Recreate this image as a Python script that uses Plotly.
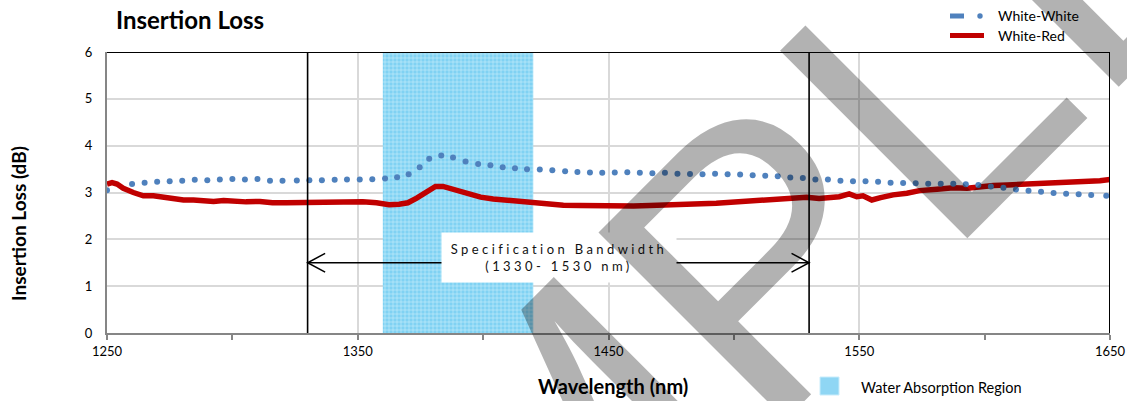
import plotly.graph_objects as go

# ---------------- data ----------------
ww_x = [1250, 1260, 1265, 1270, 1275, 1280, 1285, 1290, 1295, 1300, 1305, 1310, 1315, 1320,
        1325.7, 1330.7, 1335.7, 1340.8, 1345.7, 1350.8, 1355.8, 1360.9, 1365.7, 1370.3, 1374.7,
        1378.5, 1383.3, 1388, 1393, 1398, 1402.9, 1407.8, 1412.7, 1417.5, 1422.6, 1427.6,
        1432.7, 1437.6, 1442.6, 1447.5, 1452.5, 1457.5, 1462.5, 1467.5, 1472.5, 1477.5, 1482.5,
        1487.5, 1492.5, 1497.5, 1502.5, 1507.5, 1512.5, 1517.5, 1522.5, 1527.5, 1532.5, 1537.5,
        1542.5, 1547.5, 1552.5, 1557.5, 1562.5, 1567.5, 1572.5, 1577.5, 1582.5, 1587.5, 1592.5,
        1597.5, 1602.5, 1607.5, 1612.5, 1617.5, 1622.5, 1627.5, 1632.5, 1637.5, 1642.5, 1648.5]
ww_y = [3.05, 3.18, 3.21, 3.23, 3.24, 3.25, 3.27, 3.26, 3.28, 3.29, 3.28, 3.29, 3.25, 3.25,
        3.254, 3.263, 3.263, 3.27, 3.276, 3.276, 3.284, 3.297, 3.327, 3.391, 3.54,
        3.718, 3.788, 3.746, 3.66, 3.611, 3.583, 3.54, 3.519, 3.498, 3.49, 3.476,
        3.455, 3.44, 3.425, 3.42, 3.425, 3.43, 3.42, 3.41, 3.42, 3.40, 3.395,
        3.39, 3.40, 3.39, 3.385, 3.37, 3.36, 3.345, 3.32, 3.31, 3.28, 3.275,
        3.25, 3.24, 3.24, 3.23, 3.21, 3.205, 3.195, 3.185, 3.188, 3.185, 3.175,
        3.16, 3.13, 3.10, 3.065, 3.04, 3.015, 2.99, 2.975, 2.96, 2.945, 2.93]

wr_x = [1250, 1252, 1254, 1256.5, 1260.5, 1264.5, 1268.5, 1272.5, 1276.5, 1280.5, 1284.5,
        1288.5, 1292.5, 1296.5, 1300.5, 1305.5, 1311, 1316, 1321.5, 1327, 1332, 1337.5, 1343,
        1347, 1352, 1357.5, 1362.5, 1366.5, 1370, 1373.5, 1377.5, 1381, 1384, 1388, 1393.5,
        1399, 1404, 1409.5, 1414.5, 1420, 1425, 1432, 1438.5, 1446, 1453, 1460, 1466.5, 1473,
        1480, 1487, 1493, 1500, 1506.5, 1513, 1519.5, 1525, 1529, 1534, 1538, 1542, 1546, 1549,
        1551.5, 1555, 1558.5, 1563.5, 1569, 1574, 1581, 1587.5, 1593, 1598, 1603.5, 1609, 1614,
        1621, 1627.5, 1634, 1640.5, 1646, 1650]
wr_y = [3.18, 3.21, 3.18, 3.09, 3.00, 2.93, 2.93, 2.90, 2.88, 2.84, 2.84,
        2.83, 2.81, 2.83, 2.81, 2.80, 2.81, 2.78, 2.78, 2.785, 2.80, 2.80, 2.80,
        2.82, 2.80, 2.78, 2.74, 2.75, 2.78, 2.88, 3.02, 3.13, 3.13, 3.07, 2.96,
        2.90, 2.86, 2.83, 2.80, 2.77, 2.75, 2.73, 2.72, 2.71, 2.70, 2.71, 2.72, 2.74,
        2.76, 2.76, 2.77, 2.79, 2.82, 2.84, 2.86, 2.88, 2.90, 2.87, 2.89, 2.91, 2.97, 2.91,
        2.93, 2.84, 2.89, 2.95, 2.985, 3.04, 3.07, 3.10, 3.09, 3.13, 3.15, 3.16, 3.17,
        3.20, 3.21, 3.23, 3.23, 3.25, 3.28]

x_tickvals = [1250, 1350, 1450, 1550, 1650]
x_minorvals = [1300, 1400, 1500, 1600]
y_tickvals = [0, 1, 2, 3, 4, 5, 6]

X_MIN, X_MAX = 1250, 1650
Y_MIN, Y_MAX = 0, 6
WATER_START, WATER_END = 1360, 1420
SPEC_START, SPEC_END = 1330, 1530
ARROW_Y = 1.5

# ---------------- layout geometry ----------------
W, H = 1127, 401
ML, MR, MT, MB = 107, 17, 52, 68
PW, PH = W - ML - MR, H - MT - MB


def PX(px):
    return (px - ML) / PW


def PY(py):
    return (H - MB - py) / PH


FONT = "Lato"
BLUE = "#4f81bd"
RED = "#c00000"
WATER = "#80d2f3"

fig = go.Figure()

# water absorption region (patterned fill)
fig.add_trace(go.Scatter(
    x=[WATER_START, WATER_END, WATER_END, WATER_START, WATER_START],
    y=[Y_MIN, Y_MIN, Y_MAX, Y_MAX, Y_MIN],
    mode="lines", fill="toself", fillcolor=WATER,
    fillpattern=dict(shape="+", fgcolor="#cdeefc", bgcolor=WATER, size=4, solidity=0.25),
    line=dict(width=0, color=WATER), hoverinfo="skip", showlegend=False))

fig.add_trace(go.Scatter(
    x=wr_x, y=wr_y, mode="lines", name="White-Red",
    line=dict(color=RED, width=5.5), showlegend=False))

fig.add_trace(go.Scatter(
    x=ww_x, y=ww_y, mode="markers", name="White-White",
    marker=dict(color=BLUE, size=6), showlegend=False))

shapes = []
for xv in (SPEC_START, SPEC_END):
    shapes.append(dict(type="line", xref="x", yref="y", x0=xv, x1=xv, y0=Y_MIN, y1=Y_MAX,
                       line=dict(color="black", width=1.6), layer="above"))
shapes.append(dict(type="line", xref="x", yref="y", x0=X_MIN, x1=X_MAX, y0=Y_MAX, y1=Y_MAX,
                   line=dict(color="black", width=2), layer="above"))
shapes.append(dict(type="line", xref="x", yref="y", x0=X_MAX, x1=X_MAX, y0=Y_MIN, y1=Y_MAX,
                   line=dict(color="black", width=2), layer="above"))
shapes.append(dict(type="line", xref="x", yref="y", x0=SPEC_START, x1=SPEC_END, y0=ARROW_Y, y1=ARROW_Y,
                   line=dict(color="black", width=1.5), layer="above"))
hx, hy = 7.0, 0.2
shapes.append(dict(type="path", xref="x", yref="y",
                   path=f"M {SPEC_START + hx},{ARROW_Y + hy} L {SPEC_START},{ARROW_Y} L {SPEC_START + hx},{ARROW_Y - hy}",
                   line=dict(color="black", width=1.5), layer="above"))
shapes.append(dict(type="path", xref="x", yref="y",
                   path=f"M {SPEC_END - hx},{ARROW_Y + hy} L {SPEC_END},{ARROW_Y} L {SPEC_END - hx},{ARROW_Y - hy}",
                   line=dict(color="black", width=1.5), layer="above"))
# legend samples
shapes.append(dict(type="line", xref="paper", yref="paper", x0=PX(950), x1=PX(964), y0=PY(16), y1=PY(16),
                   line=dict(color=BLUE, width=5)))
shapes.append(dict(type="circle", xref="paper", yref="paper", x0=PX(977.3), x1=PX(982.7),
                   y0=PY(18.7), y1=PY(13.3), fillcolor=BLUE, line=dict(width=0)))
shapes.append(dict(type="line", xref="paper", yref="paper", x0=PX(950), x1=PX(984), y0=PY(35.5), y1=PY(35.5),
                   line=dict(color=RED, width=5)))
shapes.append(dict(type="rect", xref="paper", yref="paper", x0=PX(820), x1=PX(839), y0=PY(395), y1=PY(377),
                   fillcolor="#8fd6f4", line=dict(color="#c8ecfb", width=1)))

annotations = [
    dict(text="<b>Insertion Loss</b>", xref="paper", yref="paper", x=PX(114), y=PY(20),
         xanchor="left", yanchor="middle", showarrow=False, font=dict(family=FONT, size=24, color="black")),
    dict(text="<b>Insertion Loss (dB)</b>", xref="paper", yref="paper", x=PX(18), y=PY(224),
         xanchor="center", yanchor="middle", textangle=-90, showarrow=False,
         font=dict(family=FONT, size=19, color="black")),
    dict(text="<b>Wavelength (nm)</b>", xref="paper", yref="paper", x=PX(613), y=PY(386),
         xanchor="center", yanchor="middle", showarrow=False, font=dict(family=FONT, size=20, color="black")),
    dict(text="White-White", xref="paper", yref="paper", x=PX(996), y=PY(16),
         xanchor="left", yanchor="middle", showarrow=False, font=dict(family=FONT, size=14, color="black")),
    dict(text="White-Red", xref="paper", yref="paper", x=PX(996), y=PY(36),
         xanchor="left", yanchor="middle", showarrow=False, font=dict(family=FONT, size=14, color="black")),
    dict(text="Water Absorption Region", xref="paper", yref="paper", x=PX(859), y=PY(387),
         xanchor="left", yanchor="middle", showarrow=False, font=dict(family=FONT, size=14.5, color="black")),
    dict(text='<span style="letter-spacing:3.4px">Specification Bandwidth</span><br>'
              '<span style="letter-spacing:3.4px">(1330- 1530 nm)</span>',
         xref="x", yref="y", x=1430.3, y=1.61, xanchor="center", yanchor="middle",
         width=232, height=47, bgcolor="white", borderpad=1, showarrow=False, align="center",
         font=dict(family=FONT, size=13, color="#111")),
    # watermark
    dict(text="SAMPLE", xref="paper", yref="paper", x=PX(631), y=PY(385), xanchor="center",
         yanchor="middle", textangle=-45, showarrow=False,
         font=dict(family="Liberation Sans", size=385, color="rgba(0,0,0,0.30)")),
]

fig.update_layout(
    template="none",
    width=W, height=H, autosize=False, margin=dict(l=ML, r=MR, t=MT, b=MB, pad=0, autoexpand=False),
    paper_bgcolor="white", plot_bgcolor="white",
    shapes=shapes, annotations=annotations, showlegend=False,
    font=dict(family=FONT, size=13, color="black"),
    xaxis=dict(range=[X_MIN, X_MAX], tickvals=x_tickvals, showgrid=True, gridcolor="#d9d9d9", gridwidth=1.5,
               showline=True, linecolor="#868686", linewidth=2, ticks="outside", ticklen=5,
               tickcolor="#868686", tickwidth=1.5, zeroline=False, automargin=False,
               minor=dict(tickvals=x_minorvals, ticks="outside", ticklen=5, tickcolor="#868686",
                          tickwidth=1.5, showgrid=False),
               tickfont=dict(family=FONT, size=13, color="black")),
    yaxis=dict(range=[Y_MIN, Y_MAX], tickvals=y_tickvals, showgrid=True, gridcolor="#d9d9d9", gridwidth=1.5,
               showline=True, linecolor="#868686", linewidth=2, ticks="", zeroline=False, automargin=False,
               ticklabelstandoff=10, tickfont=dict(family=FONT, size=13, color="black")),
)

fig.write_html("out.html", config={"responsive": False, "displayModeBar": False},
               post_script="document.body.style.margin='0px';document.body.style.overflow='hidden';")
